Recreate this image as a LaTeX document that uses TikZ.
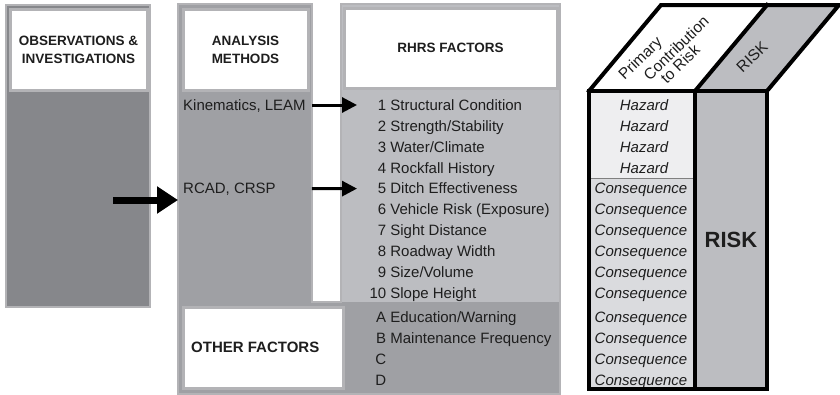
\documentclass[tikz,border=0pt]{standalone}
\usepackage{fontspec}
\usepackage{graphicx}
\setmainfont{Liberation Sans}
\usetikzlibrary{arrows.meta,calc}
\definecolor{obsgray}{HTML}{86878B}
\definecolor{anagray}{HTML}{9FA0A4}
\definecolor{rhrsgray}{HTML}{BCBDC1}
\definecolor{framegray}{HTML}{B3B3B6}
\definecolor{hazgray}{HTML}{EEEEF0}
\definecolor{consgray}{HTML}{DADBDE}
\definecolor{txtgray}{HTML}{1E1E1E}
\newcommand{\slanted}[1]{\rotatebox{44}{#1}}
\begin{document}
\begin{tikzpicture}[x=1pt,y=-1pt,
  panel/.style={anchor=north west,inner sep=0pt,outer sep=0pt},
  head/.style={fill=white,draw=framegray,line width=3pt,anchor=north west,inner sep=0pt,outer sep=0pt,
    align=center,text=txtgray,font=\fontsize{13.5}{18}\selectfont\bfseries},
  item/.style={anchor=west,inner sep=0pt,text height=10.7pt,text depth=0pt,text=txtgray,
    font=\fontsize{15}{18}\selectfont},
  risktext/.style={inner sep=0pt,text height=10.7pt,text depth=0pt,text=txtgray,
    font=\fontsize{15}{18}\selectfont\itshape},
  toptext/.style={inner sep=0pt,text=txtgray,font=\fontsize{15.5}{16}\selectfont},
  bigarrow/.style={line width=7pt,-{Triangle[length=21pt,width=26pt]}},
  smallarrow/.style={line width=3pt,-{Triangle[length=15pt,width=15pt]},shorten <=6pt,shorten >=14pt},
  edge3d/.style={line width=4pt,line join=miter,line cap=rect}]
 \useasboundingbox (0,0) rectangle (840,394);
 \node[panel,fill=obsgray,draw=framegray,line width=1.5pt,minimum width=144,minimum height=302] (obs) at (6,5) {};
 \node[head,minimum width=137,minimum height=81] (obshead) at (10,9) {OBSERVATIONS \&\\INVESTIGATIONS};
 \node[panel,fill=anagray,minimum width=382,minimum height=92] (other) at (178,302) {};
 \node[panel,fill=anagray,minimum width=134,minimum height=298] (ana) at (178,4) {};
 \node[panel,fill=rhrsgray,minimum width=219,minimum height=298] (rhrs) at (341,4) {};
 \draw[framegray,line width=1.5pt] (ana.north west) -- (ana.north east) -- (ana.south east) -- (rhrs.south west)
   -- (rhrs.north west) -- (rhrs.north east) -- (other.south east) -- (other.south west) -- cycle;
 \node[head,minimum width=125,minimum height=81] (anahead) at (183,9) {ANALYSIS\\METHODS};
 \node[head,minimum width=213,minimum height=80] (rhrshead) at (344,8) {RHRS FACTORS};
 \node[head,minimum width=160,minimum height=81] (othhead) at (183,307) {};
 \node[anchor=west,inner sep=0pt,text=txtgray,font=\fontsize{15}{18}\selectfont\bfseries] (othtext) at (191,347) {OTHER FACTORS};
 \foreach \n/\txt [count=\i] in {1/Structural Condition,2/{Strength/Stability},3/{Water/Climate},4/Rockfall History,
   5/Ditch Effectiveness,6/Vehicle Risk (Exposure),7/Sight Distance,8/Roadway Width,9/{Size/Volume},10/Slope Height}
   \node[item] (f\i) at (371,{105+20.9*(\i-1)}) {\makebox[15pt][r]{\n} \txt};
 \foreach \n/\txt [count=\i] in {A/{Education/Warning},B/Maintenance Frequency,C/,D/}
   \node[item] (o\i) at (371,{317+21*(\i-1)}) {\makebox[15pt][r]{\n} \txt};
 \node[item] (kin) at (183,105) {Kinematics, LEAM};
 \node[item] (rcad) at (183,188.6) {RCAD, CRSP};
 \draw[smallarrow] (kin.east) -- (f1.west);
 \draw[smallarrow] (rcad.east -| kin.east) -- (f5.west);
 \coordinate (obsarrow) at (113,200);
 \draw[bigarrow] (obsarrow) -- (ana.west |- obsarrow);
 % risk block
 \coordinate (fl) at (589,91);
 \coordinate (fm) at (695,91);
 \coordinate (fr) at (767,91);
 \coordinate (back) at (72,-86);
 \fill[hazgray] (fl) rectangle (695,178);
 \fill[consgray] (589,178) rectangle (695,389);
 \fill[rhrsgray] (fm) rectangle (767,389);
 \fill[white] (fl) -- ++(back) -- ($(fm)+(back)$) -- (fm) -- cycle;
 \fill[rhrsgray] (fm) -- ++(back) -- ($(fr)+(back)$) -- (fr) -- cycle;
 \draw[gray,line width=.8pt] (589,178) -- (695,178);
 \foreach \i in {1,...,4}
   \node[risktext] (h\i) at (f\i -| 644,0) {Hazard};
 \foreach \i in {5,...,10}
   \node[risktext] (c\i) at (f\i -| 641,0) {Consequence};
 \foreach \i in {1,...,4}
   \node[risktext] (co\i) at (o\i -| 641,0) {Consequence};
 \node[text=txtgray,font=\fontsize{22}{24}\selectfont\bfseries] (risk) at (731,240) {RISK};
 \node[toptext] (primary) at (641,59) {\slanted{Primary}};
 \node[toptext] (contrib) at (676,48) {\slanted{Contribution}};
 \node[toptext] (torisk) at (680,64) {\slanted{to Risk}};
 \node[toptext] (risktop) at (752,57) {\slanted{RISK}};
 \draw[edge3d] (fl) rectangle (767,389);
 \draw[edge3d] (fm) -- (695,389);
 \draw[edge3d] (fl) -- ++(back) -- ($(fr)+(back)$) -- (fr);
 \draw[edge3d] (fm) -- ++(back);
\end{tikzpicture}
\end{document}
